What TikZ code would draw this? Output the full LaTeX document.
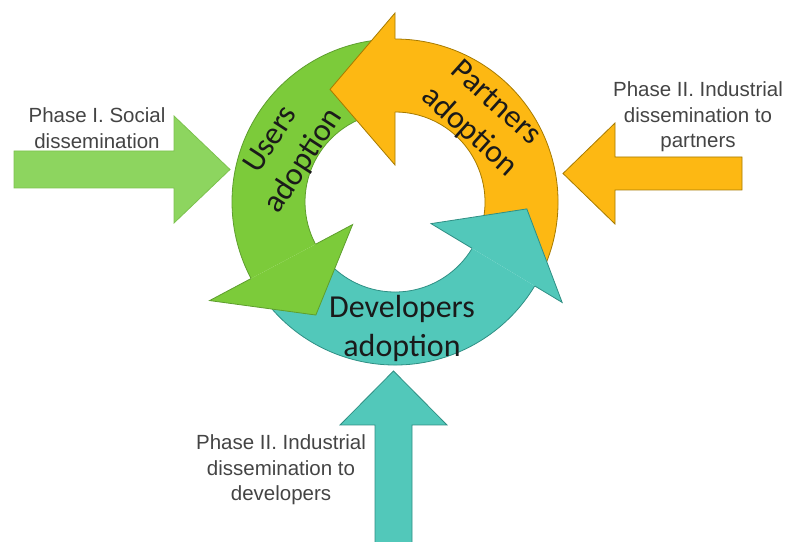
\documentclass[tikz,border=0pt]{standalone}
\usepackage{fontspec}
\setmainfont{Liberation Sans}
\newfontfamily\calibfont{Carlito}
\definecolor{gfill}{HTML}{7CCB3A}
\definecolor{gline}{HTML}{5E9E2E}
\definecolor{lgfill}{HTML}{8DD55F}
\definecolor{lgline}{HTML}{7CC24E}
\definecolor{ofill}{HTML}{FDB813}
\definecolor{oline}{HTML}{A67A00}
\definecolor{tfill}{HTML}{52C8BA}
\definecolor{tline}{HTML}{2F8F84}
\definecolor{phasegray}{HTML}{444444}
\definecolor{ringtxt}{HTML}{1A1A1A}
\begin{document}
\begin{tikzpicture}[x=1pt,y=1pt,
  phasetext/.style={font=\fontsize{20.5}{25.5}\selectfont, text=phasegray, align=center, inner sep=0pt},
  ringtext/.style={font=\calibfont\fontsize{32}{39}\selectfont, text=ringtxt, align=center, inner sep=0pt},
  edge/.style={line width=0.8pt, line join=miter}]
\useasboundingbox (0,0) rectangle (787,541);

% ---- straight block arrows ----
\draw[edge, draw=lgline, fill=lgfill] (14,390) -- (174,390) -- (174,425) -- (230,371.5) -- (174,318) -- (174,353) -- (14,353) -- cycle;
\draw[edge, draw=oline, fill=ofill] (742,384) -- (615,384) -- (615,418) -- (563,367.5) -- (615,317) -- (615,351) -- (742,351) -- cycle;
\draw[edge, draw=tline, fill=tfill] (375,-3) -- (375,116) -- (340,116) -- (393.5,170) -- (447,116) -- (412,116) -- (412,-3) -- cycle;

% ---- circular arrows ----
\begin{scope}[shift={(395pt,339pt)}]
  % bodies
  \fill[ofill] (-26:163pt) arc[start angle=-26, end angle=90, radius=163pt] -- (90:90pt) arc[start angle=90, end angle=-26, radius=90pt] -- cycle;
  \draw[edge, draw=oline] (-26:163pt) arc[start angle=-26, end angle=90, radius=163pt];
  \draw[edge, draw=oline] (-26:90pt) arc[start angle=-26, end angle=90, radius=90pt];

  \fill[gfill] (95:163pt) arc[start angle=95, end angle=208, radius=163pt] -- (208:90pt) arc[start angle=208, end angle=95, radius=90pt] -- cycle;
  \draw[edge, draw=gline] (95:163pt) arc[start angle=95, end angle=208, radius=163pt];
  \draw[edge, draw=gline] (95:90pt) arc[start angle=95, end angle=208, radius=90pt];

  \fill[tfill] (213:163pt) arc[start angle=213, end angle=329, radius=163pt] -- (329:90pt) arc[start angle=329, end angle=213, radius=90pt] -- cycle;
  \draw[edge, draw=tline] (213:163pt) arc[start angle=213, end angle=329, radius=163pt];
  \draw[edge, draw=tline] (213:90pt) arc[start angle=213, end angle=329, radius=90pt];

  % heads
  \fill[ofill] (90:189pt) -- (120:130pt) -- (90:37pt) -- cycle;
  \draw[edge, draw=oline] (90:163pt) -- (90:189pt) -- (120:130pt) -- (90:37pt) -- (90:90pt);

  \fill[gfill] (208:210pt) -- (235:138pt) -- (208:48pt) -- cycle;
  \draw[edge, draw=gline] (208:163pt) -- (208:210pt) -- (235:138pt) -- (208:48pt) -- (208:90pt);

  \fill[tfill] (329:195pt) -- (357:132pt) -- (329:42pt) -- cycle;
  \draw[edge, draw=tline] (329:163pt) -- (329:195pt) -- (357:132pt) -- (329:42pt) -- (329:90pt);
\end{scope}

% ---- texts ----
\node[phasetext] (phaseone) at (97,413) {Phase I. Social\\dissemination};
\node[phasetext] (phasepartners) at (698,424) {Phase II. Industrial\\dissemination to\\partners};
\node[phasetext] (phasedevs) at (281,71) {Phase II. Industrial\\dissemination to\\developers};
\node[ringtext, rotate=57] (users) at (288,390) {Users\\adoption};
\node[ringtext, rotate=-42] (partners) at (482,423) {Partners\\adoption};
\node[ringtext] (devs) at (402,213) {Developers\\adoption};
\end{tikzpicture}
\end{document}
